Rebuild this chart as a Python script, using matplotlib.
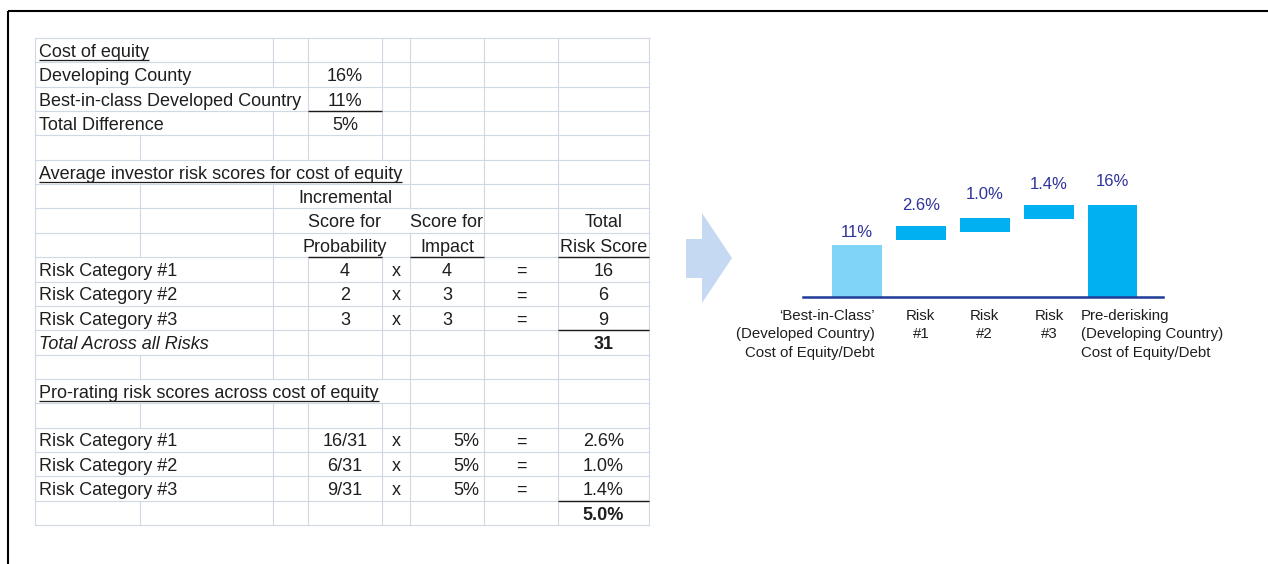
import matplotlib
matplotlib.use('Agg')
import matplotlib.pyplot as plt
from matplotlib.patches import Polygon

plt.rcParams['font.family'] = ['Liberation Sans', 'DejaVu Sans']

# ---- spreadsheet contents ----
cost_labels = ['Developing County', 'Best-in-class Developed Country', 'Total Difference']
cost_values = ['16%', '11%', '5%']
risk_names = ['Risk Category #1', 'Risk Category #2', 'Risk Category #3']
prob_scores = [4, 2, 3]
impact_scores = [4, 3, 3]
total_scores = [16, 6, 9]
total_score_sum = '31'
prorate_frac = ['16/31', '6/31', '9/31']
prorate_diff = ['5%', '5%', '5%']
prorate_result = ['2.6%', '1.0%', '1.4%']
prorate_sum = '5.0%'

# ---- waterfall (the source graphic is not to scale, levels read as drawn, 16% bar = 16) ----
wf_cats = ['\u2018Best-in-Class\u2019\n(Developed Country)\nCost of Equity/Debt',
           'Risk\n#1', 'Risk\n#2', 'Risk\n#3',
           'Pre-derisking\n(Developing Country)\nCost of Equity/Debt']
wf_labels = ['11%', '2.6%', '1.0%', '1.4%', '16%']
wf_bottom = [0, 9.9, 11.3, 13.6, 0]
wf_top = [9.0, 12.3, 13.7, 16.0, 16.0]

W, H = 1268, 564
txt_c = '#1e1e1e'
grid_c = '#d0d7e5'
fs = 13

fig = plt.figure(figsize=(W / 100, H / 100), dpi=100)
fig.patch.set_facecolor('white')

# overlay in pixel coords for the sheet, frame and arrow
tab = fig.add_axes([0, 0, 1, 1])
tab.set_xlim(0, W)
tab.set_ylim(H, 0)
tab.axis('off')

# frame (top and left only visible)
tab.plot([8, W], [11, 11], color='black', lw=1.5, solid_capstyle='butt')
tab.plot([8, 8], [11, H], color='black', lw=1.5, solid_capstyle='butt')

cols = [35, 140, 273, 308, 382, 410, 484, 558, 649]
top0 = 38
rh = 24.35
nrows = 20

def rb(r):
    return top0 + (r + 1) * rh

# gridlines hidden where text spills over
hidden = {0: {1}, 1: {1}, 2: {1, 2}, 3: {1}, 5: {1, 2, 3, 4}, 6: {3, 4},
          7: {3, 4, 5}, 8: {3, 4}, 9: {1}, 10: {1}, 11: {1}, 12: {1},
          14: {1, 2, 3, 4}, 16: {1}, 17: {1}, 18: {1}}

for r in range(nrows + 1):
    y = top0 + r * rh
    tab.plot([cols[0], cols[-1]], [y, y], color=grid_c, lw=0.8, zorder=1)
for r in range(nrows):
    for ci, x in enumerate(cols):
        if ci in hidden.get(r, set()):
            continue
        tab.plot([x, x], [top0 + r * rh, rb(r)], color=grid_c, lw=0.8, zorder=1)

def cell(r, c, s, ha='center', **kw):
    if ha == 'left':
        x = cols[c] + 4
    elif ha == 'right':
        x = cols[c + 1] - 5
    else:
        x = (cols[c] + cols[c + 1]) / 2
    return tab.text(x, rb(r) - 5.5, s, ha=ha, va='baseline', fontsize=fs,
                    color=txt_c, zorder=3, **kw)

underlined = []
underlined.append(cell(0, 0, 'Cost of equity', ha='left'))
for i in range(3):
    cell(1 + i, 0, cost_labels[i], ha='left')
    cell(1 + i, 3, cost_values[i])

underlined.append(cell(5, 0, 'Average investor risk scores for cost of equity', ha='left'))
cell(6, 3, 'Incremental')
cell(7, 3, 'Score for')
cell(7, 5, 'Score for')
cell(7, 7, 'Total')
cell(8, 3, 'Probability')
cell(8, 5, 'Impact')
cell(8, 7, 'Risk Score')
for i in range(3):
    r = 9 + i
    cell(r, 0, risk_names[i], ha='left')
    cell(r, 3, str(prob_scores[i]))
    cell(r, 4, 'x')
    cell(r, 5, str(impact_scores[i]))
    cell(r, 6, '=')
    cell(r, 7, str(total_scores[i]))
cell(12, 0, 'Total Across all Risks', ha='left', fontstyle='italic')
cell(12, 7, total_score_sum, fontweight='bold')

underlined.append(cell(14, 0, 'Pro-rating risk scores across cost of equity', ha='left'))
for i in range(3):
    r = 16 + i
    cell(r, 0, risk_names[i], ha='left')
    cell(r, 3, prorate_frac[i])
    cell(r, 4, 'x')
    cell(r, 5, prorate_diff[i], ha='right')
    cell(r, 6, '=')
    cell(r, 7, prorate_result[i])
cell(19, 7, prorate_sum, fontweight='bold')

# black cell borders
for r, c in [(2, 3), (8, 3), (8, 5), (8, 7), (11, 7), (18, 7)]:
    tab.plot([cols[c], cols[c + 1]], [rb(r), rb(r)], color='#1a1a1a', lw=1.0,
             solid_capstyle='butt', zorder=2)

# chevron arrow
tab.add_patch(Polygon([(686, 239), (702, 239), (702, 213), (732, 258), (702, 303),
                       (702, 278), (686, 278)], closed=True, facecolor='#c6d9f3',
                      edgecolor='none'))

# ---- waterfall chart ----
ppu = (296.7 - 205) / 16.0
ax = fig.add_axes([803 / W, (H - 296.7) / H, (1162.6 - 803) / W, 24 * ppu / H])
ax.set_xlim(-0.845, 4.784)
ax.set_ylim(0, 24)
ax.patch.set_alpha(0)
for s in ['top', 'right', 'left']:
    ax.spines[s].set_visible(False)
ax.spines['bottom'].set_color('#1f3c96')
ax.spines['bottom'].set_linewidth(1.8)
ax.set_xticks([])
ax.set_yticks([])

xs = list(range(len(wf_labels)))
heights = [t - b for t, b in zip(wf_top, wf_bottom)]
colors = ['#80d5f6', '#00b0f0', '#00b0f0', '#00b0f0', '#00b0f0']
ax.bar(xs, heights, bottom=wf_bottom, width=0.78, color=colors, edgecolor='none')

label_gap = [8, 16, 19, 16, 19]
for i in xs:
    ax.annotate(wf_labels[i], xy=(i, wf_top[i]), xytext=(0, label_gap[i]),
                textcoords='offset pixels', ha='center', va='baseline',
                fontsize=12, color='#2e3399', annotation_clip=False)

cat_ha = ['right', 'center', 'center', 'center', 'left']
cat_dx = [18, 0, 0, 1, -32]
for i in xs:
    ax.annotate(wf_cats[i], xy=(i, 0), xytext=(cat_dx[i], -12),
                textcoords='offset pixels', ha=cat_ha[i], va='top',
                multialignment=cat_ha[i], fontsize=10.8, color=txt_c,
                linespacing=1.42, annotation_clip=False)

# underline spreadsheet titles
fig.canvas.draw()
rend = fig.canvas.get_renderer()
inv = tab.transData.inverted()
for t in underlined:
    bb = t.get_window_extent(rend)
    (x0, _), (x1, _) = inv.transform([[bb.x0, bb.y0], [bb.x1, bb.y0]])
    yb = t.get_position()[1] + 3
    tab.plot([x0, x1], [yb, yb], color=txt_c, lw=0.9, solid_capstyle='butt', zorder=3)

fig.savefig('out.png', dpi=100)
